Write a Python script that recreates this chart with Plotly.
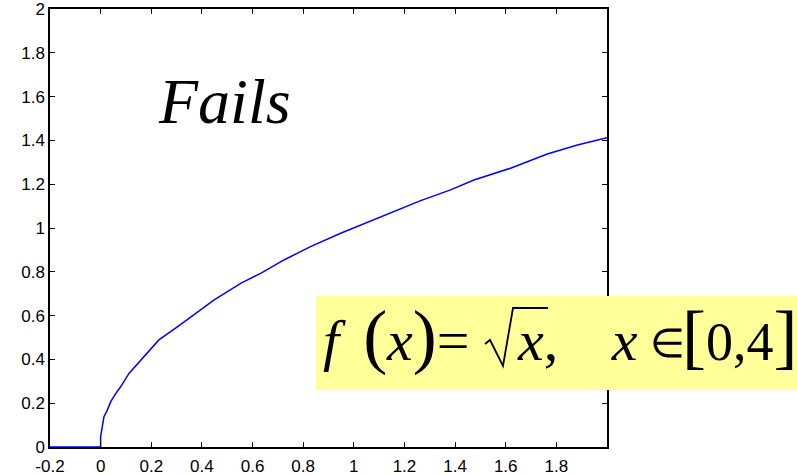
import plotly.graph_objects as go

# Sampled curve of f(x) = sqrt(x), with a flat segment left of the origin
x_vals = [-0.2, 0.0, 0.0, 0.005, 0.013, 0.025, 0.04, 0.06, 0.079, 0.112, 0.158,
          0.23, 0.303, 0.395, 0.447, 0.553, 0.632, 0.724, 0.829, 0.948,
          1.079, 1.185, 1.264, 1.382, 1.474, 1.619, 1.764, 1.883, 2.0]
y_vals = [0.0, 0.0, 0.047, 0.09, 0.138, 0.165, 0.207, 0.245, 0.275, 0.336, 0.397,
          0.489, 0.549, 0.629, 0.671, 0.747, 0.793, 0.854, 0.915, 0.976,
          1.037, 1.090, 1.125, 1.174, 1.219, 1.273, 1.338, 1.379, 1.412]

x_ticks = [-0.2, 0, 0.2, 0.4, 0.6, 0.8, 1, 1.2, 1.4, 1.6, 1.8]
x_tick_text = ["-0.2", "0", "0.2", "0.4", "0.6", "0.8", "1", "1.2", "1.4", "1.6", "1.8"]
y_ticks = [0, 0.2, 0.4, 0.6, 0.8, 1, 1.2, 1.4, 1.6, 1.8, 2]
y_tick_text = ["0", "0.2", "0.4", "0.6", "0.8", "1", "1.2", "1.4", "1.6", "1.8", "2"]

W, H = 797, 475
L, R, T, B = 50, 190, 9, 28
PW, PH = W - L - R, H - T - B


def px(xp):
    return (xp - L) / PW


def py(yp):
    return (H - B - yp) / PH


fig = go.Figure()
fig.add_trace(go.Scatter(x=x_vals, y=y_vals, mode="lines",
                         line=dict(color="#0000FF", width=1.5),
                         hoverinfo="skip", showlegend=False))

axis_common = dict(showgrid=False, zeroline=False, showline=True, automargin=False,
                   linecolor="black", linewidth=1.5, mirror="ticks",
                   ticks="inside", ticklen=5, tickwidth=1.2, tickcolor="black",
                   ticklabeloverflow="allow",
                   tickfont=dict(family="Liberation Sans, Arial", size=17, color="black"))

fig.update_xaxes(range=[-0.2, 2], tickvals=x_ticks, ticktext=x_tick_text,
                 ticklabelstandoff=3, **axis_common)
fig.update_yaxes(range=[0, 2], tickvals=y_ticks, ticktext=y_tick_text, **axis_common)

serif = "Liberation Serif, Times New Roman"


def sp(size):
    return f"<span style='font-size:{size}px'>\u00a0</span>"


def big(ch):
    return f"<span style='font-size:72px'>{ch}</span>"


lhs = (
    "<i>f</i>" + sp(58) + sp(38) + big("(") + "<i>x</i>" + big(")") + "="
    + sp(58) * 3 + sp(20) + "<i>x</i>,"
    + sp(58) * 3 + sp(40) + "<i>x</i>"
)
interval = big("[") + "<span style='font-size:54px'>0,4</span>" + big("]")

FY = 336
annotations = [
    dict(text="<i>Fails</i>", x=px(224), y=py(101), xref="paper", yref="paper",
         xanchor="center", yanchor="middle", showarrow=False, borderpad=0,
         font=dict(family=serif, size=64, color="black")),
    dict(text=lhs, x=px(322), y=py(FY), xref="paper", yref="paper",
         xanchor="left", yanchor="middle", showarrow=False, borderpad=0,
         font=dict(family=serif, size=58, color="black")),
    dict(text="\u2208", x=px(649), y=py(343), xref="paper", yref="paper",
         xanchor="left", yanchor="middle", showarrow=False, borderpad=0,
         font=dict(family=serif, size=40, color="black")),
    dict(text=interval, x=px(681), y=py(FY), xref="paper", yref="paper",
         xanchor="left", yanchor="middle", showarrow=False, borderpad=0,
         font=dict(family=serif, size=58, color="black")),
]

shapes = [
    dict(type="rect", xref="paper", yref="paper",
         x0=px(316), x1=px(797), y0=py(390), y1=py(296),
         fillcolor="#FFFF99", line=dict(width=0), layer="above"),
]
# radical sign over the second x
rad = (f"M {px(485)},{py(344)} L {px(490)},{py(340)} L {px(503)},{py(366)} "
       f"L {px(513)},{py(308)} L {px(548)},{py(308)}")
shapes.append(dict(type="path", xref="paper", yref="paper", path=rad,
                   line=dict(color="black", width=1.8), layer="above"))

fig.update_layout(width=W, height=H, margin=dict(l=L, r=R, t=T, b=B),
                  plot_bgcolor="white", paper_bgcolor="white",
                  annotations=annotations, shapes=shapes)

fig.write_html("out.html")
